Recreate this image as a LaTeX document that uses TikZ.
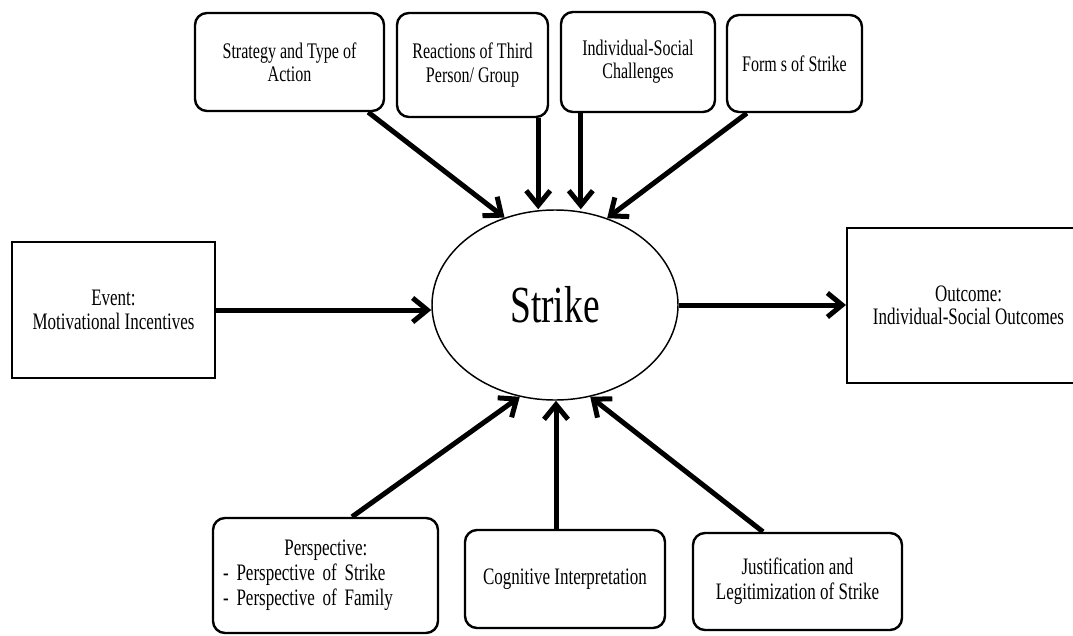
\documentclass[tikz,border=0pt]{standalone}
\usepackage{fontspec}
\setmainfont{Liberation Serif}[FakeStretch=0.72]
\usetikzlibrary{arrows.meta,shapes.geometric}

\begin{document}
\begin{tikzpicture}[x=0.75pt,y=-0.75pt,
  font=\fontsize{16.7}{17.3}\selectfont,text=black,
  rbox/.style={draw,rounded corners=9pt,line width=1.8pt,align=center,inner sep=2pt},
  sbox/.style={draw,line width=1.5pt,align=center,inner sep=2pt,
    font=\fontsize{17.7}{17.5}\selectfont},
  lowbox/.style={rbox,font=\fontsize{17.7}{18.8}\selectfont},
  core/.style={draw,ellipse,line width=1.1pt,minimum width=184.5pt,
    minimum height=142.5pt,inner sep=0pt,font=\fontsize{39}{40}\selectfont},
  flow/.style={-{Straight Barb[length=11pt,width=18pt]},line width=3.75pt}]
\useasboundingbox (0,0) rectangle (1073,635);
\clip (0,0) rectangle (1073,635);
% centre
\node[core] (strike) at (555,305) {Strike};
% upper row
\node[rbox,minimum width=141.75pt,minimum height=73.5pt] (strategy) at (289.5,62)
  {Strategy and Type of\\Action};
\node[rbox,minimum width=113.25pt,minimum height=78pt] (reactions) at (472.5,65)
  {Reactions of Third\\Person/ Group};
\node[rbox,minimum width=115.5pt,minimum height=75pt] (individual) at (638,62)
  {Individual-Social\\Challenges};
\node[rbox,minimum width=101.25pt,minimum height=72.75pt] (forms) at (794.5,63.5)
  {Form s of Strike};
% sides
\node[sbox,minimum width=152.25pt,minimum height=102pt] (event) at (113.5,310)
  {Event:\\Motivational Incentives};
\node[sbox,minimum width=182.25pt,minimum height=116.25pt] (outcome) at (968.5,305.5)
  {Outcome:\\Individual-Social Outcomes};
% lower row
\node[lowbox,minimum width=168.75pt,minimum height=86.25pt,text width=153.75pt,
  align=left,inner xsep=7.5pt] (perspective) at (325.5,575.5)
  {\hspace*{46pt}Perspective:\\- Perspective of Strike\\- Perspective of Family};
\node[lowbox,minimum width=150pt,minimum height=73.5pt] (cognitive) at (565,579)
  {Cognitive Interpretation};
\node[lowbox,minimum width=156.75pt,minimum height=72.75pt] (justification) at (797.5,581.5)
  {Justification and\\Legitimization of Strike};
% connectors
\coordinate (r1) at ([xshift=-8.25pt]reactions.south east);
\coordinate (i1) at ([xshift=15.75pt]individual.south west);
\coordinate (c1) at ([xshift=-6.75pt]cognitive.north);
\draw[flow] ([xshift=-12.75pt]strategy.south east) -- (strike.120);
\draw[flow] (r1) -- (r1 |- strike.north);
\draw[flow] (i1) -- (i1 |- strike.north);
\draw[flow] ([xshift=15.75pt]forms.south west) -- (strike.59);
\draw[flow] (event.east) -- (event.east -| strike.west);
\draw[flow] (strike.east) -- (strike.east -| outcome.west);
\draw[flow] ([xshift=19.9pt]perspective.north) -- (strike.249);
\draw[flow] (c1) -- (c1 |- strike.south);
\draw[flow] ([xshift=-25.9pt]justification.north) -- (strike.291);
\end{tikzpicture}
\end{document}
